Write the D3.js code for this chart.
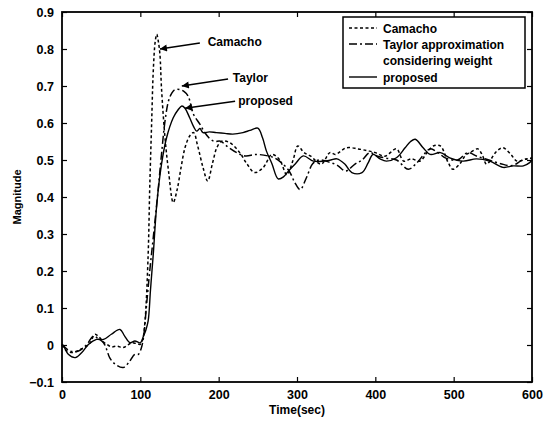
<!DOCTYPE html>
<html>
<head>
<meta charset="utf-8">
<script src="https://cdn.jsdelivr.net/npm/d3@7"></script>
<style>
  body { margin: 0; background: #fff; }
  text { font-family: "Liberation Sans", Arial, sans-serif; font-weight: bold; fill: #000; }
</style>
</head>
<body>
<script>
// readings from the scanned figure: [time, magnitude]
var camacho = [[0,0],[6,-0.016],[15,-0.02],[23,-0.012],[30,-0.005],[36,0.006],[42,0.029],[48,0.02],[53,0.008],[57,0.002],[63,-0.005],[70,-0.003],[78,-0.007],[84,0],[89,0.006],[95,0.004],[100,0.002],[103,0.015],[106,0.065],[110,0.245],[112,0.425],[114.5,0.605],[116.5,0.74],[119,0.82],[121,0.84],[123,0.82],[125,0.786],[127,0.695],[131.5,0.56],[136,0.47],[142,0.385],[147,0.42],[152,0.48],[157,0.533],[163,0.565],[168,0.574],[173,0.54],[180,0.48],[186,0.443],[192,0.49],[198,0.535],[204,0.551],[214,0.547],[227,0.52],[236,0.49],[246,0.466],[257,0.48],[268,0.515],[278,0.5],[287,0.46],[295,0.5],[301,0.538],[309,0.52],[317,0.511],[331,0.489],[342,0.52],[349,0.515],[363,0.533],[378,0.53],[390,0.525],[400,0.52],[412,0.51],[427,0.53],[436,0.497],[446,0.503],[457,0.497],[466,0.52],[474,0.538],[483,0.538],[493,0.493],[499,0.475],[508,0.49],[516,0.515],[521,0.52],[531,0.53],[537,0.511],[542,0.489],[555,0.524],[563,0.533],[573,0.515],[581,0.497],[593,0.503],[600,0.505]];

var taylor = [[0,0.002],[10,-0.016],[21,-0.016],[32,0.002],[40,0.024],[46,0.018],[53,0.006],[57,-0.012],[61,-0.035],[68,-0.052],[78,-0.061],[85,-0.048],[93,-0.025],[97.5,-0.025],[101,-0.01],[104,0.02],[108,0.11],[112,0.2],[116.5,0.29],[123,0.425],[127,0.515],[131.5,0.605],[136,0.66],[140,0.68],[144,0.69],[151,0.69],[156,0.685],[161,0.673],[168,0.623],[176,0.597],[182,0.575],[189,0.557],[195,0.55],[202,0.551],[212,0.535],[223,0.52],[234,0.511],[248,0.515],[263,0.511],[272,0.505],[280,0.493],[290,0.47],[297,0.44],[304,0.42],[312,0.452],[320,0.49],[328,0.5],[340,0.495],[352,0.485],[362,0.47],[374,0.489],[383,0.5],[393,0.52],[403,0.51],[414,0.505],[427,0.5],[442,0.475],[452,0.49],[462,0.515],[470,0.53],[480,0.52],[490,0.505],[505,0.5],[518,0.52],[530,0.51],[545,0.5],[560,0.49],[575,0.485],[588,0.5],[600,0.505]];

var proposed = [[0,0],[2,-0.003],[8,-0.025],[17,-0.034],[25,-0.021],[34,0.002],[44,0.015],[53,0.015],[63,0.029],[74,0.042],[80,0.024],[87,0.006],[93,0.011],[100,0.006],[104,0.024],[107,0.04],[110,0.065],[113,0.15],[116.5,0.245],[121,0.38],[127,0.488],[133.5,0.56],[142,0.614],[148,0.635],[153,0.646],[157,0.64],[163,0.614],[168,0.59],[172,0.578],[176,0.585],[180,0.574],[188,0.576],[197,0.574],[208,0.572],[218,0.57],[231,0.574],[240,0.58],[250,0.586],[256,0.56],[261,0.524],[268,0.49],[276,0.449],[283,0.455],[289,0.47],[298,0.49],[308,0.511],[321,0.497],[334,0.497],[343,0.5],[351,0.503],[361,0.489],[370,0.466],[383,0.466],[391,0.493],[397,0.515],[406,0.503],[414,0.497],[427,0.506],[438,0.533],[445,0.55],[451,0.556],[461,0.533],[470,0.515],[483,0.52],[495,0.506],[512,0.497],[529,0.503],[546,0.497],[563,0.48],[576,0.484],[589,0.484],[597,0.493],[600,0.5]];

var xTicks = [0, 100, 200, 300, 400, 500, 600];
var yTicks = [-0.1, 0, 0.1, 0.2, 0.3, 0.4, 0.5, 0.6, 0.7, 0.8, 0.9];
var legendNames = ['Camacho', 'Taylor approximation', 'considering weight', 'proposed'];

var width = 550, height = 421;
var margin = {left: 62, top: 12, right: 18, bottom: 39};
var w = width - margin.left - margin.right;
var h = height - margin.top - margin.bottom;

var svg = d3.select('body').append('svg')
  .attr('width', width)
  .attr('height', height);

// arrowhead, tip at the end of the line
svg.append('defs').append('marker')
  .attr('id', 'arrow')
  .attr('viewBox', '0 0 10 10')
  .attr('refX', 10).attr('refY', 5)
  .attr('markerWidth', 11).attr('markerHeight', 7)
  .attr('markerUnits', 'userSpaceOnUse')
  .attr('orient', 'auto')
  .append('path')
  .attr('d', 'M0,0 L10,5 L0,10 Z')
  .attr('fill', '#000');

var g = svg.append('g').attr('transform', 'translate(' + margin.left + ',' + margin.top + ')');

var x = d3.scaleLinear().domain([0, 600]).range([0, w]);
var y = d3.scaleLinear().domain([-0.1, 0.9]).range([h, 0]);

var fmtY = function(d) { return d === 0 ? '0' : d3.format('.1f')(d); };

// axes, ticks inward on all four sides
var axes = [
  {ax: d3.axisBottom(x).tickValues(xTicks).tickSizeInner(-5).tickSizeOuter(0).tickPadding(8), tr: [0, h]},
  {ax: d3.axisTop(x).tickValues(xTicks).tickSizeInner(-5).tickSizeOuter(0).tickFormat(''), tr: [0, 0]},
  {ax: d3.axisLeft(y).tickValues(yTicks).tickSizeInner(-5).tickSizeOuter(0).tickPadding(8).tickFormat(fmtY), tr: [0, 0]},
  {ax: d3.axisRight(y).tickValues(yTicks).tickSizeInner(-5).tickSizeOuter(0).tickFormat(''), tr: [w, 0]}
];
axes.forEach(function(a) {
  var ag = g.append('g').attr('transform', 'translate(' + a.tr[0] + ',' + a.tr[1] + ')').call(a.ax);
  ag.select('.domain').remove();
  ag.selectAll('line').attr('stroke', '#000').attr('stroke-width', 1.2);
  ag.selectAll('text').style('font-size', '12.5px').style('font-weight', 'bold')
    .style('font-family', '"Liberation Sans", Arial, sans-serif');
});

g.append('rect')
  .attr('width', w).attr('height', h)
  .attr('fill', 'none').attr('stroke', '#000').attr('stroke-width', 1.8);

var line = d3.line()
  .x(function(d) { return x(d[0]); })
  .y(function(d) { return y(d[1]); })
  .curve(d3.curveCatmullRom.alpha(0.5));

var series = [
  {data: camacho, dash: '3,2.5', sw: 1.5},
  {data: taylor, dash: '8,3,2,3', sw: 1.5},
  {data: proposed, dash: null, sw: 1.4}
];

g.selectAll('.series')
  .data(series)
  .enter()
  .append('path')
  .attr('class', 'series')
  .attr('d', function(d) { return line(d.data); })
  .attr('fill', 'none')
  .attr('stroke', '#000')
  .attr('stroke-width', function(d) { return d.sw; })
  .attr('stroke-dasharray', function(d) { return d.dash; });

// annotations with arrows
var notes = [
  {label: 'Camacho', tip: [125, 0.8], tail: [176, 0.816], text: [186, 0.808]},
  {label: 'Taylor', tip: [153, 0.70], tail: [212, 0.719], text: [218, 0.711]},
  {label: 'proposed', tip: [157, 0.64], tail: [221, 0.659], text: [225, 0.649]}
];

notes.forEach(function(n) {
  g.append('line')
    .attr('x1', x(n.tail[0])).attr('y1', y(n.tail[1]))
    .attr('x2', x(n.tip[0])).attr('y2', y(n.tip[1]))
    .attr('stroke', '#000').attr('stroke-width', 1.5)
    .attr('marker-end', 'url(#arrow)');
  g.append('text')
    .attr('x', x(n.text[0])).attr('y', y(n.text[1]))
    .style('font-size', '12px')
    .text(n.label);
});

// legend
var lg = svg.append('g').attr('transform', 'translate(343,17)');
lg.append('rect')
  .attr('width', 182).attr('height', 71)
  .attr('fill', '#fff').attr('stroke', '#000').attr('stroke-width', 1.5);

var legendRows = [
  {name: legendNames[0], y: 11, style: series[0]},
  {name: legendNames[1], y: 27, style: series[1]},
  {name: legendNames[2], y: 43, style: null},
  {name: legendNames[3], y: 60, style: series[2]}
];
legendRows.forEach(function(r) {
  if (r.style) {
    lg.append('line')
      .attr('x1', 6).attr('x2', 34).attr('y1', r.y).attr('y2', r.y)
      .attr('stroke', '#000').attr('stroke-width', r.style.sw)
      .attr('stroke-dasharray', r.style.dash);
  }
  lg.append('text')
    .attr('x', 40).attr('y', r.y + 4.5)
    .style('font-size', '12px')
    .text(r.name);
});

// axis titles
svg.append('text')
  .attr('x', margin.left + w / 2).attr('y', 414)
  .attr('text-anchor', 'middle')
  .style('font-size', '12px')
  .text('Time(sec)');

svg.append('text')
  .attr('transform', 'translate(21,' + (margin.top + h / 2) + ') rotate(-90)')
  .attr('text-anchor', 'middle')
  .style('font-size', '11px')
  .text('Magnitude');
</script>
</body>
</html>
